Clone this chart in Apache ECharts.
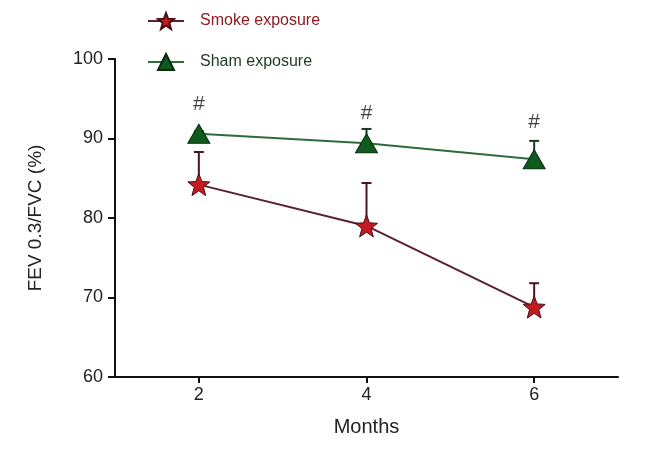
<!DOCTYPE html>
<html>
<head>
<meta charset="utf-8">
<script src="https://cdn.jsdelivr.net/npm/echarts@6/dist/echarts.min.js"></script>
<style>
  html, body { margin: 0; padding: 0; background: #fff; }
  #chart { width: 654px; height: 451px; }
</style>
</head>
<body>
<div id="chart"></div>
<script>
// months sampled
const months = [2, 4, 6]
const monthTicks = [2, 4, 6]

// FEV 0.3/FVC (%) means and upper error (SD) values
const smokeMean = [84.2, 79.0, 68.8]
const smokeErrTop = [88.3, 84.4, 71.8]
const shamMean = [90.6, 89.4, 87.4]
const shamErrTop = [90.9, 91.2, 89.7]

// position of the "#" significance marks
const hashY = [94.3, 93.2, 92.1]

const smokeName = 'Smoke exposure'
const shamName = 'Sham exposure'

const starPath = 'path://M50,0 L63,33 L98,35 L70,57 L80,92 L50,72 L20,92 L30,57 L2,35 L37,33 Z'

const toPairs = (xs, ys) => xs.map((x, i) => [x, ys[i]])

const errorBars = (xs, mean, top, color) => ({
  type: 'custom',
  silent: true,
  z: 1,
  data: xs.map((x, i) => [x, mean[i], top[i]]),
  renderItem: (params, api) => {
    const p0 = api.coord([api.value(0), api.value(1)])
    const p1 = api.coord([api.value(0), api.value(2)])
    const cap = 5
    return {
      type: 'group',
      children: [
        { type: 'line', shape: { x1: p0[0], y1: p0[1], x2: p1[0], y2: p1[1] }, style: { stroke: color, lineWidth: 2 } },
        { type: 'line', shape: { x1: p1[0] - cap, y1: p1[1], x2: p1[0] + cap, y2: p1[1] }, style: { stroke: color, lineWidth: 2 } }
      ]
    }
  }
})

const chart = echarts.init(document.getElementById('chart'))

chart.setOption({
  animation: false,
  textStyle: { fontFamily: 'Liberation Sans, Arial, sans-serif' },
  legend: {
    orient: 'vertical',
    left: 142,
    top: 7,
    itemGap: 23,
    itemWidth: 36,
    itemHeight: 20,
    textStyle: { fontSize: 16, padding: [0, 0, 0, 11] },
    data: [
      { name: smokeName, textStyle: { color: '#8c1c22' } },
      { name: shamName, textStyle: { color: '#1d3a22' } }
    ]
  },
  grid: { left: 115, right: 36, top: 59, bottom: 74 },
  xAxis: {
    type: 'value',
    min: 1,
    max: 7,
    name: 'Months',
    nameLocation: 'middle',
    nameGap: 40,
    nameTextStyle: { fontSize: 20, color: '#222' },
    splitLine: { show: false },
    axisLine: { lineStyle: { color: '#111', width: 2 } },
    axisTick: { customValues: monthTicks, length: 6, lineStyle: { color: '#111', width: 2 } },
    axisLabel: { customValues: monthTicks, fontSize: 18, color: '#222', margin: 9 }
  },
  yAxis: {
    type: 'value',
    min: 60,
    max: 100,
    interval: 10,
    name: 'FEV 0.3/FVC (%)',
    nameLocation: 'middle',
    nameGap: 70,
    nameTextStyle: { fontSize: 19, color: '#222' },
    splitLine: { show: false },
    axisLine: { show: true, lineStyle: { color: '#111', width: 2 } },
    axisTick: { show: true, length: 7, lineStyle: { color: '#111', width: 2 } },
    axisLabel: { fontSize: 18, color: '#222', margin: 12 }
  },
  series: [
    errorBars(months, smokeMean, smokeErrTop, '#4a1420'),
    errorBars(months, shamMean, shamErrTop, '#1c3a20'),
    {
      name: smokeName,
      type: 'line',
      z: 3,
      data: toPairs(months, smokeMean),
      symbol: starPath,
      symbolSize: 22,
      lineStyle: { color: '#5a2030', width: 2 },
      itemStyle: { color: '#c41a22', borderColor: '#4a0d12', borderWidth: 1 }
    },
    {
      name: shamName,
      type: 'line',
      z: 3,
      data: toPairs(months, shamMean),
      symbol: 'triangle',
      symbolSize: [22, 19],
      lineStyle: { color: '#2f6b3a', width: 2 },
      itemStyle: { color: '#0f5a1f', borderColor: '#062d0e', borderWidth: 1 }
    },
    {
      type: 'scatter',
      silent: true,
      symbolSize: 0,
      data: toPairs(months, hashY),
      label: {
        show: true,
        position: 'inside',
        formatter: '#',
        fontSize: 21,
        color: '#111'
      }
    }
  ]
})
</script>
</body>
</html>
